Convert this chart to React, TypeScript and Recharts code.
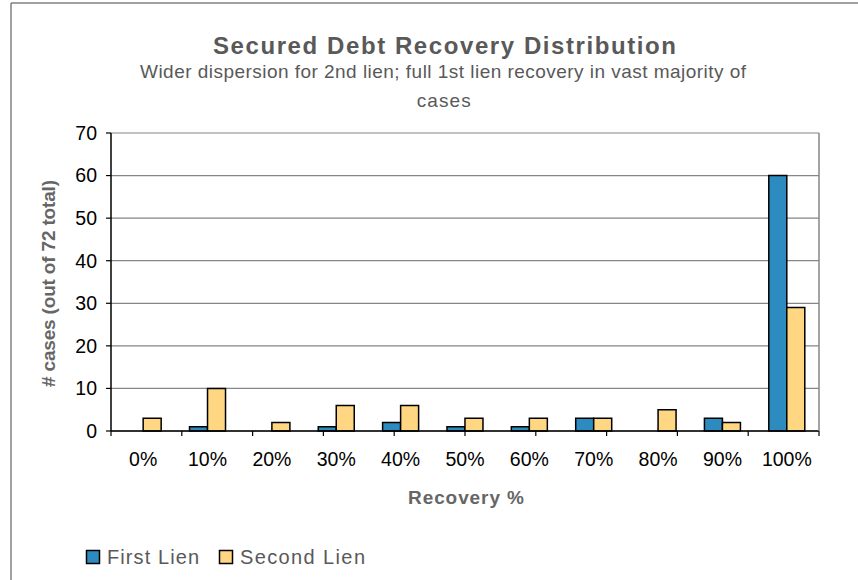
import React from 'react';
import { BarChart, Bar, XAxis, YAxis, CartesianGrid, Legend } from 'recharts';

const categories = ['0%', '10%', '20%', '30%', '40%', '50%', '60%', '70%', '80%', '90%', '100%'];
const firstLien = [0, 1, 0, 1, 2, 1, 1, 3, 0, 3, 60];
const secondLien = [3, 10, 2, 6, 6, 3, 3, 3, 5, 2, 29];
const yTicks = [0, 10, 20, 30, 40, 50, 60, 70];
const boundaryTicks = [0, 1, 2, 3, 4, 5, 6, 7, 8, 9, 10, 11];

const data = categories.map((c, i) => ({ cat: c, first: firstLien[i], second: secondLien[i] }));

const BLUE = '#2E8BC0';
const YELLOW = '#FFD782';
const FONT = '"Liberation Sans", Arial, sans-serif';

const LegendContent = () => (
  <svg width={300} height={24} style={{ display: 'block' }}>
    <rect x={6.5} y={6.5} width={13} height={13} fill={BLUE} stroke="#000" strokeWidth={1.5} />
    <text x={27} y={20} fontFamily={FONT} fontSize={20} fill="#595959" textLength={92} lengthAdjust="spacing">First Lien</text>
    <rect x={139.5} y={6.5} width={13} height={13} fill={YELLOW} stroke="#000" strokeWidth={1.5} />
    <text x={160} y={20} fontFamily={FONT} fontSize={20} fill="#595959" textLength={125} lengthAdjust="spacing">Second Lien</text>
  </svg>
);

const EmptyTick = () => <g />;

export default function App() {
  return (
    <div style={{ position: 'absolute', left: 0, top: 0, width: 858, height: 580, overflow: 'hidden', background: '#fff' }}>
      <BarChart
        width={858}
        height={580}
        data={data}
        margin={{ top: 133, right: 38, left: 0, bottom: 64 }}
        barCategoryGap="22%"
        barGap={0}
      >
        <CartesianGrid vertical={false} stroke="#868686" strokeWidth={1.2} yAxisId={0} xAxisId="cat" />
        <XAxis
          xAxisId={0}
          type="number"
          domain={[0, 11]}
          ticks={boundaryTicks}
          allowDataOverflow
          tick={EmptyTick}
          tickSize={5}
          height={1}
          axisLine={{ stroke: '#000', strokeWidth: 1.5 }}
          tickLine={{ stroke: '#000', strokeWidth: 1.2 }}
        />
        <XAxis
          xAxisId="cat"
          dataKey="cat"
          height={60}
          axisLine={false}
          tickLine={false}
          tickSize={0}
          tickMargin={20.5}
          interval={0}
          tick={{ fill: '#000', fontSize: 19.5, fontFamily: FONT }}
        />
        <YAxis
          yAxisId={0}
          domain={[0, 70]}
          ticks={yTicks}
          width={111}
          tickSize={5}
          tickMargin={9}
          axisLine={{ stroke: '#000', strokeWidth: 1.5 }}
          tickLine={{ stroke: '#000', strokeWidth: 1.2 }}
          tick={{ fill: '#000', fontSize: 19.5, fontFamily: FONT }}
        />
        <YAxis
          yAxisId="r"
          orientation="right"
          domain={[0, 70]}
          width={1}
          tick={false}
          tickLine={false}
          axisLine={{ stroke: '#868686', strokeWidth: 1.5 }}
        />
        <Legend
          verticalAlign="bottom"
          align="left"
          content={() => <LegendContent />}
          wrapperStyle={{ left: 80, top: 544, width: 300, height: 24 }}
        />
        <Bar xAxisId="cat" dataKey="first" name="First Lien" fill={BLUE} stroke="#000" strokeWidth={1.5} isAnimationActive={false} />
        <Bar xAxisId="cat" dataKey="second" name="Second Lien" fill={YELLOW} stroke="#000" strokeWidth={1.5} isAnimationActive={false} />
      </BarChart>
      <svg width={858} height={580} style={{ position: 'absolute', left: 0, top: 0, pointerEvents: 'none' }}>
        <line x1={11} y1={3} x2={11} y2={580} stroke="#808080" strokeWidth={1.5} />
        <line x1={11} y1={3} x2={858} y2={3} stroke="#808080" strokeWidth={1.5} />
        <text x={444.5} y={54} textAnchor="middle" fontFamily={FONT} fontWeight="bold" fontSize={24} fill="#595959" textLength={463} lengthAdjust="spacing">Secured Debt Recovery Distribution</text>
        <text x={443} y={78} textAnchor="middle" fontFamily={FONT} fontSize={19} fill="#595959" textLength={606} lengthAdjust="spacing">Wider dispersion for 2nd lien; full 1st lien recovery in vast majority of</text>
        <text x={443.7} y={107} textAnchor="middle" fontFamily={FONT} fontSize={19} fill="#595959" textLength={54} lengthAdjust="spacing">cases</text>
        <text x={466} y={504} textAnchor="middle" fontFamily={FONT} fontWeight="bold" fontSize={19} fill="#666666" textLength={116} lengthAdjust="spacing">Recovery %</text>
        <text x={48} y={283.5} dy="0.35em" transform="rotate(-90, 48, 283.5)" textAnchor="middle" fontFamily={FONT} fontWeight="bold" fontSize={19} fill="#666666" textLength={207} lengthAdjust="spacing"># cases (out of 72 total)</text>
      </svg>
    </div>
  );
}
